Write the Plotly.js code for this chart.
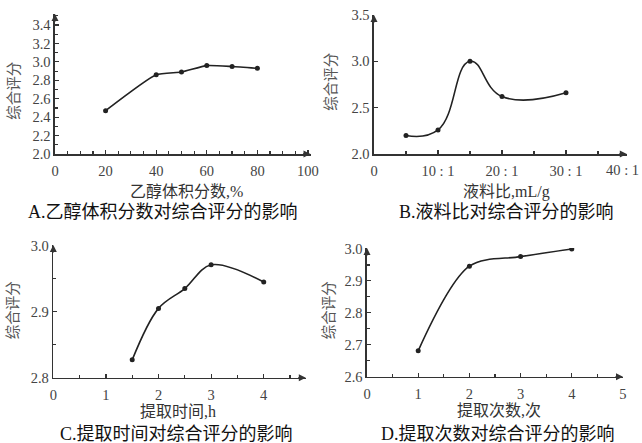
<!DOCTYPE html>
<html>
<head>
<meta charset="utf-8">
<script src="https://cdn.plot.ly/plotly-3.0.1.min.js"></script>
<style>html,body{margin:0;padding:0;background:#fff;}#chart{width:642px;height:443px;}</style>
</head>
<body>
<div id="chart"></div>
<script>
// ---- data ----
const ethanolX = [20, 40, 50, 60, 70, 80];
const ethanolY = [2.47, 2.86, 2.89, 2.96, 2.95, 2.93];

const ratioX = [5, 10, 15, 20, 30];
const ratioY = [2.20, 2.26, 3.00, 2.62, 2.66];
const ratioTickVals = [0, 10, 20, 30, 40];
const ratioTickText = ['0', '10 : 1', '20 : 1', '30 : 1', '40 : 1'];

const timeX = [1.5, 2, 2.5, 3, 4];
const timeY = [2.827, 2.905, 2.935, 2.971, 2.945];

const timesX = [1, 2, 3, 4];
const timesY = [2.681, 2.946, 2.976, 3.0];

const yTitle = '综合评分';
const xTitles = ['乙醇体积分数,%', '液料比,mL/g', '提取时间,h', '提取次数,次'];
const captions = ['A.乙醇体积分数对综合评分的影响', 'B.液料比对综合评分的影响',
                  'C.提取时间对综合评分的影响', 'D.提取次数对综合评分的影响'];

// ---- layout helpers ----
const W = 642, H = 443;
const px = v => v / W;
const py = v => 1 - v / H;
const serif = 'Liberation Serif, DejaVu Serif, Noto Sans CJK SC, serif';
const cjk = 'Liberation Serif, Noto Sans CJK SC, sans-serif';
const ink = '#222';

function line(x, y, xa, ya, smooth) {
  return {
    x: x, y: y, xaxis: xa, yaxis: ya, type: 'scatter', mode: 'lines+markers',
    line: {color: ink, width: 1.6, shape: 'spline', smoothing: smooth},
    marker: {color: ink, size: 5}, hoverinfo: 'skip', showlegend: false
  };
}

const traces = [
  line(ethanolX, ethanolY, 'x', 'y', 0.5),
  line(ratioX, ratioY, 'x2', 'y2', 1.3),
  line(timeX, timeY, 'x3', 'y3', 1.0),
  line(timesX, timesY, 'x4', 'y4', 0.9)
];

function axis(dom, range, extra) {
  return Object.assign({
    domain: dom, range: range, showgrid: false, zeroline: false,
    showline: true, linecolor: '#333', linewidth: 1.6,
    ticks: 'inside', ticklen: 4, tickwidth: 1.2, tickcolor: '#333',
    tickfont: {family: serif, size: 14.5, color: '#444'}, fixedrange: true
  }, extra);
}
const xs = {ticklabelstandoff: 3};

const layout = {
  width: W, height: H, margin: {l: 0, r: 0, t: 0, b: 0},
  paper_bgcolor: '#fff', plot_bgcolor: 'rgba(0,0,0,0)', showlegend: false,
  xaxis: axis([px(55), px(310.5)], [0, 101], Object.assign({anchor: 'y', tickvals: [0,20,40,60,80,100],
    minor: {dtick: 5, tick0: 0, ticks: 'inside', ticklen: 3, tickcolor: '#333'}}, xs)),
  yaxis: axis([py(154), py(14)], [2, 3.52], {anchor: 'x', tickvals: [2,2.2,2.4,2.6,2.8,3.0,3.2,3.4], tickformat: '.1f',
    minor: {dtick: 0.1, tick0: 2, ticks: 'inside', ticklen: 3, tickcolor: '#333'}}),
  xaxis2: axis([px(374), px(626.8)], [0, 39.5], Object.assign({anchor: 'y2', tickvals: ratioTickVals, ticktext: ratioTickText,
    minor: {dtick: 5, tick0: 0, ticks: 'inside', ticklen: 3, tickcolor: '#333'}}, xs)),
  yaxis2: axis([py(154), py(15)], [2, 3.5], {anchor: 'x2', tickvals: [2,2.5,3,3.5], tickformat: '.1f'}),
  xaxis3: axis([px(53.3), px(305.8)], [0, 4.8], Object.assign({anchor: 'y3', tickvals: [0,1,2,3,4],
    minor: {dtick: 0.5, tick0: 0, ticks: 'inside', ticklen: 3, tickcolor: '#333'}}, xs)),
  yaxis3: axis([py(377.7), py(245)], [2.8, 3.001], {anchor: 'x3', tickvals: [2.8,2.9,3.0], tickformat: '.1f',
    minor: {dtick: 0.05, tick0: 2.8, ticks: 'inside', ticklen: 3, tickcolor: '#333'}}),
  xaxis4: axis([px(367), px(623)], [0, 5.001], Object.assign({anchor: 'y4', tickvals: [0,1,2,3,4,5],
    minor: {dtick: 0.5, tick0: 0, ticks: 'inside', ticklen: 3, tickcolor: '#333'}}, xs)),
  yaxis4: axis([py(376.7), py(248)], [2.6, 3.003], {anchor: 'x4', tickvals: [2.6,2.7,2.8,2.9,3.0], tickformat: '.1f',
    minor: {dtick: 0.05, tick0: 2.6, ticks: 'inside', ticklen: 3, tickcolor: '#333'}}),
  annotations: []
};

// last tick label of panel B sits just past the axis end, kept inside the page edge
layout.annotations.push({xref: 'paper', yref: 'paper', x: px(641), y: py(170.5),
  text: ratioTickText[4], showarrow: false, xanchor: 'right', yanchor: 'middle',
  font: {family: serif, size: 14.5, color: '#444'}});

// axis titles and captions
const xt = [[186.7, 191.5], [506, 191.5], [178.3, 411.5], [499.3, 410.5]];
const cap = [[163, 212.3], [506.8, 212.3], [176.7, 434.3], [497.7, 434.3]];
const yt = [[14, 90.8], [331, 81.7], [13.3, 310], [329.3, 310]];
for (let i = 0; i < 4; i++) {
  layout.annotations.push({xref: 'paper', yref: 'paper', x: px(xt[i][0]), y: py(xt[i][1]),
    text: xTitles[i], showarrow: false, xanchor: 'center', yanchor: 'middle',
    font: {family: cjk, size: 16, color: '#333'}});
  layout.annotations.push({xref: 'paper', yref: 'paper', x: px(cap[i][0]), y: py(cap[i][1]),
    text: captions[i], showarrow: false, xanchor: 'center', yanchor: 'middle',
    font: {family: cjk, size: 18, color: '#111'}});
  layout.annotations.push({xref: 'paper', yref: 'paper', x: px(yt[i][0]), y: py(yt[i][1]),
    text: yTitle, showarrow: false, textangle: -90, xanchor: 'center', yanchor: 'middle',
    font: {family: cjk, size: 14.5, color: '#555'}});
}

// axis arrowheads
const ends = [['x','y',101,2,3.52], ['x2','y2',39.5,2,3.5], ['x3','y3',4.8,2.8,3.001], ['x4','y4',5.001,2.6,3.003]];
ends.forEach(e => {
  layout.annotations.push({xref: e[0], yref: e[1], x: e[2], y: e[3], ax: -9, ay: 0, text: '',
    showarrow: true, arrowhead: 2, arrowsize: 1, arrowwidth: 1.4, arrowcolor: '#333'});
  layout.annotations.push({xref: e[0], yref: e[1], x: 0, y: e[4], ax: 0, ay: 9, text: '',
    showarrow: true, arrowhead: 2, arrowsize: 1, arrowwidth: 1.4, arrowcolor: '#333'});
});

Plotly.newPlot('chart', traces, layout, {staticPlot: true, displayModeBar: false});
</script>
</body>
</html>
